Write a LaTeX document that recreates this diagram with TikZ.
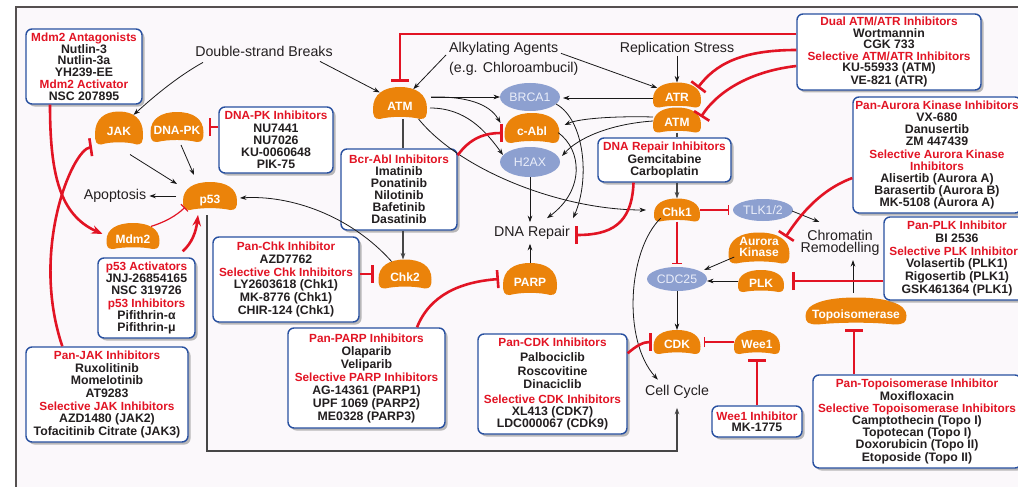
\documentclass[tikz,border=0pt]{standalone}
\usepackage{fontspec}
\setmainfont{Liberation Sans}
\usetikzlibrary{arrows.meta,shapes.geometric,shadows,calc}

\definecolor{protfill}{RGB}{235,131,10}
\definecolor{ellfill}{RGB}{141,160,208}
\definecolor{elltext}{RGB}{234,238,250}
\definecolor{ired}{RGB}{226,20,36}
\definecolor{boxblue}{RGB}{40,80,160}
\definecolor{ink}{RGB}{35,31,32}
\definecolor{pagebg}{RGB}{251,248,251}
\definecolor{framegrey}{RGB}{85,80,80}
\definecolor{wire}{RGB}{25,25,25}
\definecolor{greywire}{RGB}{70,70,70}

% red heading line inside a drug box
\newcommand\hd[1]{{\color{ired}\fontsize{11.8}{12.2}\selectfont #1}}

% kidney-shaped protein: name, x, y, width, height, label, label drop
\newcommand\bean[7]{%
  \fill[protfill]
    ({#2-0.5*#4},{#3+0.175*#5})
    .. controls ({#2-0.5*#4},{#3-0.275*#5}) and ({#2-0.3*#4},{#3-0.5*#5}) .. ({#2},{#3-0.5*#5})
    .. controls ({#2+0.3*#4},{#3-0.5*#5}) and ({#2+0.5*#4},{#3-0.275*#5}) .. ({#2+0.5*#4},{#3+0.175*#5})
    .. controls ({#2+0.5*#4},{#3+0.425*#5}) and ({#2+0.475*#4},{#3+0.5*#5}) .. ({#2+0.375*#4},{#3+0.5*#5})
    .. controls ({#2+0.175*#4},{#3+0.41*#5}) and ({#2-0.175*#4},{#3+0.41*#5}) .. ({#2-0.375*#4},{#3+0.5*#5})
    .. controls ({#2-0.475*#4},{#3+0.5*#5}) and ({#2-0.5*#4},{#3+0.425*#5}) .. ({#2-0.5*#4},{#3+0.175*#5})
    -- cycle;
  \node[protnode, minimum width=#4pt, minimum height=#5pt] (#1) at (#2,#3)
    {\makebox[0pt]{\raisebox{-#7pt}[0pt][0pt]{#6}}};
}

\tikzset{
  protnode/.style={ellipse, inner sep=0pt, outer sep=0pt, text=white,
    font=\fontsize{12}{12}\selectfont\bfseries},
  enz/.style={ellipse, fill=ellfill, inner sep=0pt, outer sep=0pt, text=elltext,
    font=\fontsize{12.3}{13}\selectfont},
  lbl/.style={inner sep=0pt, text=ink, font=\fontsize{14.2}{16}\selectfont},
  drugbox/.style={draw=boxblue, line width=1.4pt, fill=white, rounded corners=6pt,
    align=center, inner sep=1pt, text=ink,
    font=\fontsize{12.3}{#1}\selectfont\bfseries,
    drop shadow={shadow xshift=2.5pt, shadow yshift=-2.5pt, fill=black!45, opacity=0.6}},
  drugbox/.default=12.2,
  act/.style={draw=wire, line width=0.8pt, -{Stealth[length=6.5pt,width=4.6pt]}},
  link/.style={draw=greywire, line width=1.1pt, -{Stealth[length=6.5pt,width=4.6pt]}},
  plainlink/.style={draw=greywire, line width=1.1pt},
  redact/.style={draw=ired, line width=2.6pt, -{Stealth[length=11pt,width=8.5pt]}},
  block/.style={draw=ired, line width=2.6pt, -{Bar[width=18pt]}},
  thinblock/.style={draw=ired, line width=1.2pt, -{Bar[width=10pt]}},
}

\begin{document}
\begin{tikzpicture}[x=1pt, y=-1pt]
\useasboundingbox (0,0) rectangle (1018,487);
\fill[white] (0,0) rectangle (1018,487);
\fill[pagebg] (16,7) rectangle (1018,487);
\draw[framegrey, line width=1.7pt] (16,487) -- (16,7) -- (1018,7);

% ---------------- proteins ----------------
\bean{jak}{119}{128}{48}{33}{JAK}{7.3}
\bean{dnapk}{177}{127}{53}{30}{DNA-PK}{7.3}
\bean{p53}{210}{196}{54}{28}{p53}{7.3}
\bean{mdm}{133}{236}{53}{26}{Mdm2}{7.3}
\bean{atm}{400}{103}{54}{32}{ATM}{7.3}
\bean{cabl}{532}{128}{55}{30}{c-Abl}{7.3}
\bean{atr}{677}{95}{48}{25}{ATR}{6.8}
\bean{atmr}{677}{120}{48}{25}{ATM}{6.8}
\bean{chkone}{677}{210}{46}{23}{Chk1}{6.8}
\bean{chktwo}{405}{274}{53}{29}{Chk2}{7.3}
\bean{parp}{530}{279}{54}{32}{PARP}{7.3}
\bean{aurora}{759}{248}{61}{31}{\begin{tabular}{@{}c@{}}Aurora\\[-1.3pt]Kinase\end{tabular}}{4}
\bean{plk}{761}{281}{46}{22}{PLK}{6.8}
\bean{topo}{856}{311}{101}{27}{Topoisomerase}{7}
\bean{cdk}{677}{342}{47}{24}{CDK}{6.8}
\bean{wee}{757}{342}{46}{24}{Wee1}{6.8}

% ---------------- other substrates ----------------
\node[enz, minimum width=60pt, minimum height=28pt] (brca) at (530,97) {BRCA1};
\node[enz, minimum width=60pt, minimum height=30pt] (h2ax) at (530,162) {H2AX};
\node[enz, minimum width=60pt, minimum height=22pt] (tlk) at (763,210) {TLK1/2};
\node[enz, minimum width=60pt, minimum height=24pt] (cdc) at (677,279) {CDC25};

% ---------------- labels ----------------
\node[lbl] (dsb) at (264,51) {Double-strand Breaks};
\node[lbl, align=left, anchor=west, font=\fontsize{14.2}{19.7}\selectfont] (alk) at (449,59) {Alkylating Agents\\(e.g. Chloroambucil)};
\node[lbl] (rep) at (677,49) {Replication Stress};
\node[lbl] (apo) at (115,196) {Apoptosis};
\node[lbl] (dnarep) at (532,233) {DNA Repair};
\node[lbl, align=center, font=\fontsize{14.2}{12.5}\selectfont] (chrom) at (840,243) {Chromatin\\Remodelling};
\node[lbl] (cellcyc) at (677,392) {Cell Cycle};

% ---------------- drug boxes ----------------
\node[drugbox=11.8, minimum width=116pt, minimum height=75pt] (mdmbox) at (84,66.5)
  {\hd{Mdm2 Antagonists}\\Nutlin-3\\Nutlin-3a\\YH239-EE\\\hd{Mdm2 Activator}\\NSC 207895};
\node[drugbox, minimum width=114pt, minimum height=66pt] (dnapkbox) at (276,140)
  {\hd{DNA-PK Inhibitors}\\NU7441\\NU7026\\KU-0060648\\PIK-75};
\node[drugbox=12, minimum width=116pt, minimum height=81pt] (bcrbox) at (399,189.5)
  {\hd{Bcr-Abl Inhibitors}\\Imatinib\\Ponatinib\\Nilotinib\\Bafetinib\\Dasatinib};
\node[drugbox=11.4, minimum width=184pt, minimum height=76pt] (dualbox) at (889,52)
  {\hd{Dual ATM/ATR Inhibitors}\\Wortmannin\\CGK 733\\\hd{Selective ATM/ATR Inhibitors}\\KU-55933 (ATM)\\VE-821 (ATR)};
\node[drugbox=12.5, minimum width=133pt, minimum height=44pt] (repairbox) at (664.5,160)
  {\hd{DNA Repair Inhibitors}\\Gemcitabine\\Carboplatin};
\node[drugbox=12.1, minimum width=168pt, minimum height=116pt] (aurbox) at (937,155)
  {\hd{Pan-Aurora Kinase Inhibitors}\\VX-680\\Danusertib\\ZM 447439\\\hd{Selective Aurora Kinase}\\\hd{Inhibitors}\\Alisertib (Aurora A)\\Barasertib (Aurora B)\\MK-5108 (Aurora A)};
\node[drugbox=12.7, minimum width=146pt, minimum height=83pt] (plkbox) at (957,258.5)
  {\hd{Pan-PLK Inhibitor}\\BI 2536\\\hd{Selective PLK Inhibitors}\\Volasertib (PLK1)\\Rigosertib (PLK1)\\GSK461364 (PLK1)};
\node[drugbox, minimum width=208pt, minimum height=93pt] (topobox) at (917,421.5)
  {\hd{Pan-Topoisomerase Inhibitor}\\Moxifloxacin\\\hd{Selective Topoisomerase Inhibitors}\\Camptothecin (Topo I)\\Topotecan (Topo I)\\Doxorubicin (Topo II)\\Etoposide (Topo II)};
\node[drugbox=11.3, minimum width=90pt, minimum height=31pt] (weebox) at (757,421.5)
  {\hd{Wee1 Inhibitor}\\MK-1775};
\node[drugbox=11.8, minimum width=149pt, minimum height=100pt] (cdkbox) at (552.5,384)
  {\hd{Pan-CDK Inhibitors}\\[2.6pt]Palbociclib\\[2.4pt]Roscovitine\\[1.4pt]Dinaciclib\\[3.6pt]\hd{Selective CDK Inhibitors}\\XL413 (CDK7)\\LDC000067 (CDK9)};
\node[drugbox=13, minimum width=157pt, minimum height=100pt] (parpbox) at (366.5,378)
  {\hd{Pan-PARP Inhibitors}\\Olaparib\\Veliparib\\\hd{Selective PARP Inhibitors}\\AG-14361 (PARP1)\\UPF 1069 (PARP2)\\ME0328 (PARP3)};
\node[drugbox=12.7, minimum width=146pt, minimum height=85pt] (chkbox) at (286,279.5)
  {\hd{Pan-Chk Inhibitor}\\AZD7762\\\hd{Selective Chk Inhibitors}\\LY2603618 (Chk1)\\MK-8776 (Chk1)\\CHIR-124 (Chk1)};
\node[drugbox=12.3, minimum width=97pt, minimum height=80pt] (p53box) at (146.5,298)
  {\hd{p53 Activators}\\JNJ-26854165\\NSC 319726\\\hd{p53 Inhibitors}\\Pifithrin-α\\Pifithrin-μ};
\node[drugbox=12.55, minimum width=162pt, minimum height=95pt] (jakbox) at (107,394.5)
  {\hd{Pan-JAK Inhibitors}\\Ruxolitinib\\Momelotinib\\AT9283\\\hd{Selective JAK Inhibitors}\\AZD1480 (JAK2)\\Tofacitinib Citrate (JAK3)};

% ---------------- damage signals ----------------
\draw[act] ([xshift=-61pt,yshift=-6pt]dsb.south) .. controls (175,78) and (150,100) .. (jak);
\draw[act] ([xshift=56pt,yshift=-5pt]dsb.south) -- (atm);
\draw[act] ([xshift=-3pt,yshift=4pt]alk.west) -- (atm);
\draw[act] ([xshift=112pt,yshift=-11pt]alk.north west) -- (atr);
\draw[act] (rep.south) -- (atr.north);

% ---------------- ATM outputs ----------------
\draw[act] ([xshift=4pt,yshift=6pt]atm.east) -- (brca.west);
\draw[act] ([xshift=4pt,yshift=6pt]atm.east) .. controls (475,96) and (492,108) .. ([xshift=-4pt,yshift=5pt]cabl.west);
\draw[act] ([xshift=3pt,yshift=-5pt]atm.east) .. controls (465,108) and (485,130) .. ([xshift=3pt,yshift=7pt]h2ax.west);
\draw[act] ([xshift=3pt,yshift=-3pt]atm.-40) .. controls (460,170) and (560,210) .. ([xshift=-8pt]chkone.west);
\draw[plainlink] ([xshift=3pt]atm.south) -- ([xshift=4pt]bcrbox.north);
\draw[link] ([xshift=4pt]bcrbox.south) -- ([xshift=-2pt]chktwo.north);

% ---------------- ATR / ATM outputs ----------------
\draw[act] ([yshift=-3pt]atr.west) -- ([xshift=3pt,yshift=-1pt]brca.east);
\draw[act] ([yshift=3pt]atmr.west) .. controls (620,116) and (580,118) .. ([xshift=5pt,yshift=3pt]cabl.east);
\draw[act] ([yshift=-1pt]atmr.west) .. controls (610,124) and (578,138) .. ([xshift=2pt,yshift=6pt]h2ax.east);
\draw[plainlink] (atmr.south) -- (atmr.south |- repairbox.north);
\draw[link] (repairbox.south -| chkone.north) -- (chkone.north);

% ---------------- DNA repair ----------------
\draw[act] (brca.-15) .. controls (585,120) and (590,180) .. ([xshift=3pt,yshift=8pt]dnarep.north east);
\draw[act] (cabl.-10) .. controls (582,150) and (585,190) .. ([xshift=15pt,yshift=8pt]dnarep.north);
\draw[act] (h2ax.south) -- ([xshift=-2pt,yshift=4pt]dnarep.north);
\draw[act] (parp.north) -- ([xshift=-2pt,yshift=-4pt]dnarep.south);

% ---------------- p53 node ----------------
\draw[act] (chktwo.137) .. controls (350,215) and (290,195) .. ([xshift=3pt,yshift=-2pt]p53.east);
\draw[act] ([xshift=11pt,yshift=-10pt]jak.south) -- ([xshift=-6pt,yshift=12pt]p53.west);
\draw[act] ([xshift=4pt,yshift=-3pt]dnapk.south) -- ([xshift=-16pt,yshift=7pt]p53.north);
\draw[act] ([xshift=-7pt]p53.west) -- ([xshift=3pt]apo.east);
\draw[thinblock] (mdm.28) .. controls (165,222) and (176,216) .. ([xshift=-5pt,yshift=-2pt]p53.205);
\draw[link] ([xshift=-3pt,yshift=-5pt]p53.south) -- ++(0,236) -| ([yshift=-9pt]cellcyc.south);

% ---------------- Chk1 branch ----------------
\draw[thinblock] (chkone.east) -- ([xshift=-4pt]tlk.west);
\draw[act] ([xshift=-1pt,yshift=-1pt]tlk.east) -- ([xshift=19pt,yshift=8pt]chrom.north west);
\draw[thinblock] (chkone.south) -- ([yshift=3pt]cdc.north);
\draw[act] (chkone.south west) .. controls (628,250) and (622,340) .. ([xshift=13pt,yshift=5.5pt]cellcyc.north west);
\draw[act] (aurora.200) -- ([xshift=5pt,yshift=1pt]cdc.20);
\draw[act] (plk.west) -- (plk.west -| cdc.east);
\draw[act] (cdc.south) -- (cdk.north);
\draw[thinblock] (wee.west) -- ([xshift=3pt]cdk.east);
\draw[act] ([xshift=-3pt,yshift=5pt]topo.north) -- ([xshift=13pt,yshift=-4pt]chrom.south);

% ---------------- drugs acting on targets ----------------
\draw[redact] ([xshift=-34pt]mdmbox.south) .. controls (50,175) and (60,215) .. ([xshift=-4pt,yshift=2pt]mdm.west);
\draw[block] ([xshift=37pt]jakbox.north west) .. controls (30,250) and (72,150) .. ($(jak.center)+(-27,19)$);
\draw[redact] ([xshift=-13pt,yshift=6pt]p53box.north east) .. controls (192,243) and (196,232) .. ([xshift=-12pt,yshift=-5pt]p53.south);
\draw[block] ([yshift=13pt]dnapkbox.west) -- ([xshift=5pt]dnapk.east);
\draw[block] ([yshift=-7pt]bcrbox.north east) .. controls (470,138) and (485,133) .. ([xshift=-2pt,yshift=-5pt]cabl.west);
\draw[block] ([xshift=-31pt]repairbox.south) .. controls (632,225) and (610,235) .. ([xshift=5pt,yshift=-2pt]dnarep.east);
\draw[block] ([yshift=18pt]dualbox.west) -| ([yshift=5pt]atm.north);
\draw[block] ([yshift=2pt]dualbox.west) .. controls (740,50) and (715,65) .. ([xshift=1pt]atr.20);
\draw[block] ([yshift=-14pt]dualbox.west) .. controls (745,72) and (715,95) .. ([yshift=3pt]atmr.east);
\draw[block] ([yshift=-23pt]aurbox.west) .. controls (820,190) and (800,215) .. ([xshift=5pt]aurora.north east);
\draw[block] (plkbox.west |- plk.east) -- ([xshift=8pt]plk.east);
\draw[block] ([xshift=-63pt]topobox.north) -- ([xshift=-2pt,yshift=-4.5pt]topo.south);
\draw[block] (weebox.north) -- ([yshift=-5pt]wee.south);
\draw[block] ([yshift=-20pt]cdkbox.north east) .. controls (636,346) and (643,342) .. ([xshift=-2pt]cdk.west);
\draw[block] ([xshift=50.5pt]parpbox.north) .. controls (430,295) and (460,282) .. ([xshift=-4pt]parp.west);
\draw[block] ([yshift=5.5pt]chkbox.east) -- ([xshift=-4.5pt]chktwo.west);
\end{tikzpicture}
\end{document}
